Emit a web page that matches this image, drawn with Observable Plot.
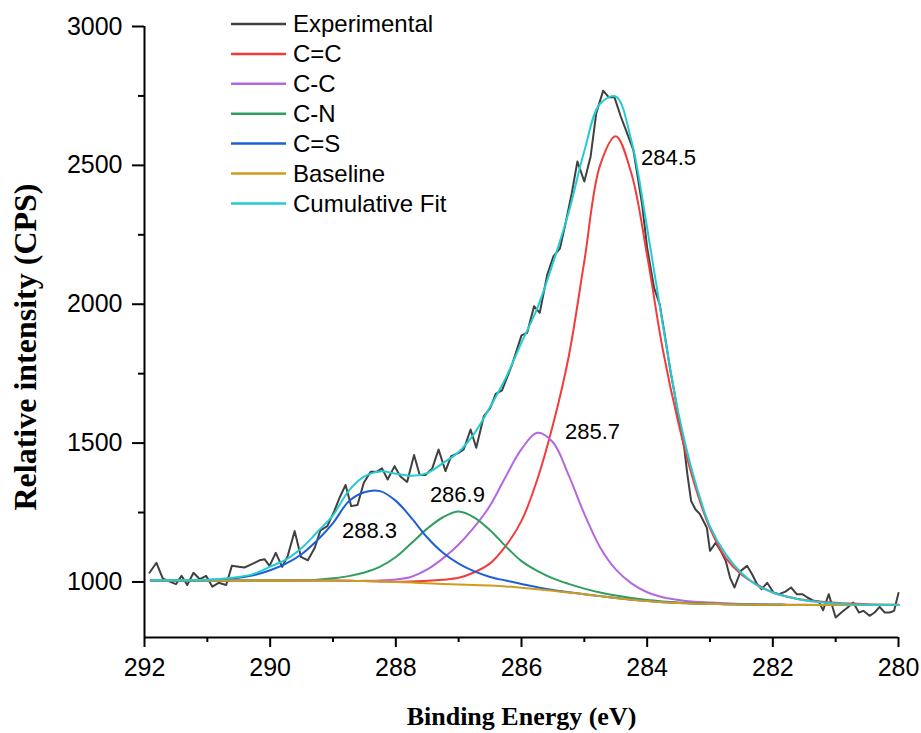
<!DOCTYPE html>
<html>
<head>
<meta charset="utf-8">
<script src="https://cdn.jsdelivr.net/npm/d3@7"></script>
<script src="https://cdn.jsdelivr.net/npm/@observablehq/plot@0.6"></script>
<style>
  html, body { margin: 0; padding: 0; background: white; }
  #chart { width: 921px; height: 733px; }
</style>
</head>
<body>
<div id="chart"></div>
<script>
// ---------- Data ----------
const xMajorTicks = [292, 290, 288, 286, 284, 282, 280];
const xMinorTicks = [291, 289, 287, 285, 283, 281];
const yMajorTicks = [1000, 1500, 2000, 2500, 3000];
const yMinorTicks = [1250, 1750, 2250, 2750];

// Experimental spectrum
const expEnergy = [291.92,291.81,291.71,291.60,291.50,291.41,291.32,291.22,291.12,291.02,
  290.92,290.82,290.70,290.61,290.50,290.41,290.29,290.17,290.09,290.01,
  289.91,289.81,289.72,289.61,289.51,289.40,289.29,289.20,289.09,288.98,
  288.89,288.80,288.71,288.61,288.51,288.40,288.30,288.22,288.13,288.02,
  287.93,287.82,287.71,287.62,287.53,287.42,287.32,287.21,287.12,287.00,
  286.92,286.81,286.72,286.60,286.50,286.41,286.31,286.24,286.15,286.00,
  285.91,285.80,285.71,285.59,285.49,285.39,285.30,285.20,285.11,285.00,
  284.90,284.81,284.70,284.61,284.52,284.42,284.32,284.22,284.08,284.00,
  283.89,283.80,283.70,283.63,283.57,283.49,283.41,283.36,283.30,283.23,
  283.16,283.05,283.00,282.91,282.83,282.75,282.68,282.61,282.51,282.41,
  282.33,282.25,282.18,282.09,281.99,281.90,281.80,281.71,281.62,281.53,
  281.45,281.35,281.27,281.20,281.11,281.00,280.91,280.81,280.72,280.63,
  280.56,280.46,280.38,280.30,280.22,280.14,280.07,280.00];
const expCounts = [1033,1069,1013,1001,992,1022,989,1033,1010,1022,
  983,997,989,1058,1055,1052,1064,1078,1082,1058,
  1105,1054,1094,1183,1090,1078,1123,1186,1201,1255,
  1306,1349,1273,1277,1357,1397,1397,1409,1369,1417,
  1381,1360,1457,1385,1385,1409,1477,1399,1453,1465,
  1477,1549,1483,1597,1625,1677,1690,1730,1783,1888,
  1897,1993,1969,2107,2173,2200,2290,2400,2514,2442,
  2532,2688,2769,2745,2745,2676,2616,2556,2359,2203,
  2059,1999,1862,1759,1687,1579,1483,1387,1291,1261,
  1244,1195,1112,1141,1112,1076,1015,980,1040,1058,
  1028,992,974,997,962,956,965,980,956,956,
  944,932,930,898,956,872,890,908,926,890,
  896,878,890,910,890,890,896,960];

// Fitted components, sampled on a common energy grid
const fitEnergy = [291.9,291.5,291,290.5,290.25,290,289.75,289.5,289.25,289,
  288.75,288.5,288.25,288,287.75,287.5,287.25,287,286.75,286.5,
  286.25,286,285.75,285.5,285.25,285,284.75,284.5,284.25,284,
  283.75,283.5,283.25,283,282.75,282.5,282.25,282,281.75,281.5,
  281,280.5,280];
const fitCC = [1005,1005,1005,1005,1005,1005,1005,1005,1005,1005,
  1004,1003,1002,1001,1002,1004,1008,1015,1035,1067,
  1130,1220,1368,1565,1810,2155,2500,2605,2470,2175,
  1835,1570,1355,1193,1087,1027,990,962,946,935,
  925,920,918];
const fitCminusC = [1005,1005,1005,1005,1005,1005,1005,1005,1005,1005,
  1004,1004,1005,1009,1019,1045,1085,1135,1198,1275,
  1380,1478,1537,1503,1385,1245,1125,1045,995,963,
  945,935,929,926,923,921,920,919,918,918,
  917,917,917];
const fitCN = [1005,1005,1005,1005,1005,1005,1005,1006,1008,1013,
  1021,1034,1055,1090,1140,1192,1233,1254,1232,1186,
  1128,1075,1040,1013,993,976,962,951,942,935,
  930,926,923,922,920,919,918,918,917,917,
  917,917,917];
const fitCS = [1005,1005,1007,1015,1025,1042,1066,1100,1150,1212,
  1290,1323,1327,1292,1230,1160,1105,1066,1038,1018,
  1005,993,981,971,963,956,949,942,936,931,
  927,924,922,921,920,919,918,918,917,917,
  917,917,917];
const fitBaseline = [1005,1005,1005,1005,1005,1005,1005,1005,1005,1005,
  1004,1003,1002,1000,998,995,993,991,989,987,
  984,979,974,968,962,956,949,942,936,931,
  927,924,922,921,920,919,918,918,917,917,
  917,917,917];
const fitCumulative = [1006,1006,1008,1018,1030,1055,1080,1122,1180,1240,
  1328,1380,1398,1390,1382,1392,1428,1468,1535,1630,
  1735,1862,1985,2148,2330,2552,2722,2748,2588,2274,
  1925,1605,1372,1200,1100,1032,988,962,946,934,
  922,918,918];

const seriesNames = ["Experimental", "C=C", "C-C", "C-N", "C=S", "Baseline", "Cumulative Fit"];
const seriesColors = ["#404040", "#f23c3c", "#b368e0", "#2f9e5e", "#1d5fd8", "#cf9c1c", "#22ccd2"];

const peakText = ["284.5", "285.7", "286.9", "288.3"];
const peakTextEnergy = [283.66, 284.87, 287.02, 288.42];
const peakTextCounts = [2525, 1540, 1313, 1183];

// ---------- Tables built from the arrays ----------
const expData = expEnergy.map((e, i) => ({e, c: expCounts[i]}));
const fitCols = [fitCC, fitCminusC, fitCN, fitCS, fitBaseline, fitCumulative];
const fitData = fitCols.map((col, k) => fitEnergy.map((e, i) => ({e, c: col[i], s: seriesNames[k + 1]})));
const peakData = peakText.map((t, i) => ({t, e: peakTextEnergy[i], c: peakTextCounts[i]}));

const sans = "'Liberation Sans', Arial, Helvetica, sans-serif";
const serif = "'Liberation Serif', 'Times New Roman', serif";

const plot = Plot.plot({
  width: 921,
  height: 733,
  marginLeft: 144,
  marginRight: 23,
  marginTop: 26,
  marginBottom: 96,
  x: {domain: [292, 280], label: null},
  y: {domain: [800, 3000], label: null},
  style: {fontFamily: sans, background: "white", color: "black"},
  marks: [
    Plot.axisX({ticks: xMajorTicks, tickSize: 10, strokeWidth: 2, label: null, tickFormat: () => ""}),
    Plot.axisX({ticks: xMinorTicks, tickSize: 5, strokeWidth: 2, label: null, tickFormat: () => ""}),
    Plot.text(xMajorTicks, {x: d => d, frameAnchor: "bottom", dy: 30, text: d => String(d), fontSize: 25, textAnchor: "middle", lineAnchor: "middle", fill: "black"}),
    Plot.axisY({ticks: yMajorTicks, tickSize: 12, tickPadding: 10, fontSize: 25, strokeWidth: 2, label: null, tickFormat: d => String(d)}),
    Plot.axisY({ticks: yMinorTicks, tickSize: 6, strokeWidth: 2, label: null, tickFormat: () => ""}),
    Plot.ruleX([292], {strokeWidth: 2}),
    Plot.ruleY([800], {strokeWidth: 2}),
    Plot.line(expData, {x: "e", y: "c", stroke: seriesColors[0], strokeWidth: 2}),
    ...fitData.map((d, k) => Plot.line(d, {x: "e", y: "c", stroke: seriesColors[k + 1], strokeWidth: 2, curve: "catmull-rom"})),
    Plot.text(peakData, {x: "e", y: "c", text: "t", fontSize: 22, fontFamily: sans, fill: "black"}),
    Plot.text(["Binding Energy (eV)"], {frameAnchor: "bottom", dy: 79, text: d => d, textAnchor: "middle", lineAnchor: "middle", fontSize: 26, fontWeight: "bold", fontFamily: serif, fill: "black"}),
    Plot.text(["Relative intensity (CPS)"], {frameAnchor: "left", dx: -119, dy: 15, rotate: -90, text: d => d, textAnchor: "middle", lineAnchor: "middle", fontSize: 32, fontWeight: "bold", fontFamily: serif, fill: "black"})
  ]
});

// Legend (inside the plot area, top-left)
const svg = d3.select(plot);
const lg = svg.append("g").attr("font-family", sans).attr("font-size", 24).attr("text-anchor", "start");
seriesNames.forEach((name, i) => {
  const y = 24 + i * 29.9;
  lg.append("line").attr("x1", 231).attr("x2", 286).attr("y1", y).attr("y2", y)
    .attr("stroke", seriesColors[i]).attr("stroke-width", 2.5);
  lg.append("text").attr("x", 293).attr("y", y).attr("dy", "0.35em").attr("fill", "black")
    .attr("text-anchor", "start").text(name);
});

document.getElementById("chart").appendChild(plot);
</script>
</body>
</html>
